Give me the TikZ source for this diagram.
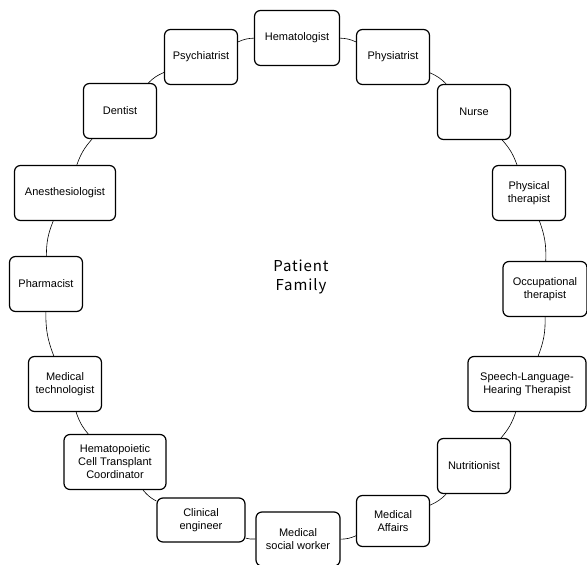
\documentclass[tikz,border=0pt]{standalone}
\usepackage{fontspec}
\setmainfont{Liberation Sans}
\newfontfamily\centerfont[LetterSpace=6]{Noto Sans CJK JP}

\begin{document}
\begin{tikzpicture}[x=1pt, y=-1pt,
    role/.style={draw, line width=1.2pt, rounded corners=6pt, fill=white,
      align=center, minimum width=73pt, minimum height=55pt, inner sep=2pt,
      font=\fontsize{11}{13}\selectfont},
    link/.style={line width=0.6pt}]
      % page frame
      \useasboundingbox (0,0) rectangle (587,565);

      % Center
      \node[font=\centerfont\fontsize{15}{19}\selectfont, align=center] (pf) at (301,277) {Patient\\Family};

      % Roles, clockwise from the top
      \node[role, minimum width=85pt] (hem) at (297,38) {Hematologist};
      \node[role] (phys) at (393,57) {Physiatrist};
      \node[role] (nurse) at (474,112) {Nurse};
      \node[role] (pt) at (529,193) {Physical\\therapist};
      \node[role, minimum width=84pt] (ot) at (545,289) {Occupational\\therapist};
      \node[role, minimum width=118pt] (st) at (527,384) {Speech-Language-\\Hearing Therapist};
      \node[role] (nutri) at (474,466) {Nutritionist};
      \node[role, minimum height=51pt] (ma) at (393,521) {Medical\\Affairs};
      \node[role, minimum width=84pt, minimum height=54pt] (msw) at (298,539) {Medical\\social worker};
      \node[role, minimum width=88pt, minimum height=44pt] (ce) at (201,520) {Clinical\\engineer};
      \node[role, minimum width=102pt] (hct) at (115,462) {Hematopoietic\\Cell Transplant\\Coordinator};
      \node[role] (mt) at (65,384) {Medical\\technologist};
      \node[role] (pharm) at (46,284) {Pharmacist};
      \node[role, minimum width=101pt] (anes) at (65,193) {Anesthesiologist};
      \node[role] (dent) at (120,111) {Dentist};
      \node[role] (psy) at (201,57) {Psychiatrist};

      % Ring
      \foreach \a/\b in {hem/phys, phys/nurse, nurse/pt, pt/ot, ot/st, st/nutri,
          nutri/ma, ma/msw, msw/ce, ce/hct, hct/mt, mt/pharm, pharm/anes,
          anes/dent, dent/psy, psy/hem}
        \draw[link] (\a) to[bend left=11] (\b);
    \end{tikzpicture}
\end{document}
